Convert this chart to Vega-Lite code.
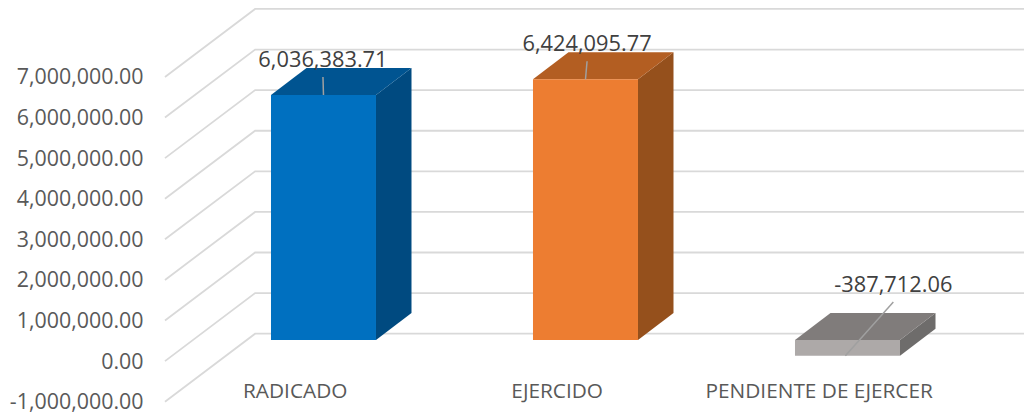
{"$schema":"https://vega.github.io/schema/vega-lite/v6.json","width":1024,"height":414,"padding":0,"autosize":"none","background":"#ffffff","config":{"view":{"stroke":null},"locale":{"number":{"decimal":".","thousands":",","grouping":[3],"currency":["$",""],"minus":"-"}},"text":{"font":"Open Sans"}},"datasets":{"bars":[{"category":"RADICADO","order":1,"value":6036383.71},{"category":"EJERCIDO","order":2,"value":6424095.77},{"category":"PENDIENTE DE EJERCER","order":3,"value":-387712.06}],"grid":[{"tick":-1000000},{"tick":0},{"tick":1000000},{"tick":2000000},{"tick":3000000},{"tick":4000000},{"tick":5000000},{"tick":6000000},{"tick":7000000}]},"resolve":{"scale":{"color":"independent"}},"layer":[{"data":{"name":"grid"},"transform":[{"calculate":"[0,1,2]","as":"c"},{"flatten":["c"]},{"calculate":"[0.395,0.739,3.6737][datum.c]","as":"px"},{"calculate":"datum.tick+(datum.c>0?1675000:0)","as":"py"}],"mark":{"type":"line","color":"#d9d9d9","strokeWidth":1.8},"encoding":{"x":{"field":"px","type":"quantitative","scale":{"domain":[-0.2347,3.6737],"nice":false,"zero":false},"axis":null},"y":{"field":"py","type":"quantitative","scale":{"domain":[-1303000,8896000],"nice":false,"zero":false},"axis":{"title":null,"orient":"left","offset":-147,"values":[-1000000,0,1000000,2000000,3000000,4000000,5000000,6000000,7000000],"format":",.2f","domain":false,"ticks":false,"grid":false,"labelPadding":4,"labelOffset":1,"labelFont":"Open Sans","labelFontSize":21.4,"labelColor":"#595959"}},"detail":{"field":"tick"},"order":{"field":"c"}}},{"data":{"name":"bars"},"transform":[{"calculate":"[0,1]","as":"c"},{"flatten":["c"]},{"calculate":"datum.order+0.2004+0.1355*datum.c","as":"px"},{"calculate":"519800+max(datum.value,0)+665000*datum.c","as":"yt"},{"calculate":"519800+min(datum.value,0)+665000*datum.c","as":"yb"}],"mark":{"type":"area","interpolate":"linear"},"encoding":{"x":{"field":"px","type":"quantitative"},"y":{"field":"yt","type":"quantitative","stack":null},"y2":{"field":"yb"},"color":{"field":"category","type":"nominal","legend":null,"scale":{"domain":["RADICADO","EJERCIDO","PENDIENTE DE EJERCER"],"range":["#004A80","#95501C","#6E6C6B"]}}}},{"data":{"name":"bars"},"transform":[{"calculate":"[0,1,2,3]","as":"c"},{"flatten":["c"]},{"calculate":"datum.order-0.2004+[0,0.1355,0.4008,0.5363][datum.c]","as":"px"},{"calculate":"519800+max(datum.value,0)+[0,0,0,665000][datum.c]","as":"yl"},{"calculate":"519800+max(datum.value,0)+[0,665000,665000,665000][datum.c]","as":"yh"}],"mark":{"type":"area","interpolate":"linear"},"encoding":{"x":{"field":"px","type":"quantitative"},"y":{"field":"yh","type":"quantitative","stack":null},"y2":{"field":"yl"},"color":{"field":"category","type":"nominal","legend":null,"scale":{"domain":["RADICADO","EJERCIDO","PENDIENTE DE EJERCER"],"range":["#005491","#B35E22","#807C7B"]}}}},{"data":{"name":"bars"},"transform":[{"calculate":"datum.order-0.2004","as":"xl"},{"calculate":"datum.order+0.2004","as":"xr"},{"calculate":"519800+max(datum.value,0)","as":"yt"},{"calculate":"519800+min(datum.value,0)","as":"yb"}],"mark":{"type":"rect"},"encoding":{"x":{"field":"xl","type":"quantitative"},"x2":{"field":"xr"},"y":{"field":"yt","type":"quantitative"},"y2":{"field":"yb"},"color":{"field":"category","type":"nominal","legend":null,"scale":{"domain":["RADICADO","EJERCIDO","PENDIENTE DE EJERCER"],"range":["#0070C0","#ED7D31","#ADA9A8"]}}}},{"data":{"name":"bars"},"transform":[{"calculate":"[0,1]","as":"c"},{"flatten":["c"]},{"calculate":"datum.order+[0,0,-0.008][datum.order-1]+datum.c*[-0.002,0.006,0.183][datum.order-1]","as":"px"},{"calculate":"519800+datum.value+datum.c*[443000,443000,1324000][datum.order-1]","as":"py"}],"mark":{"type":"line","color":"#a0a0a0","strokeWidth":1.5},"encoding":{"x":{"field":"px","type":"quantitative"},"y":{"field":"py","type":"quantitative"},"detail":{"field":"category"}}},{"data":{"name":"bars"},"transform":[{"calculate":"datum.order+[-0.002,0.006,0.175][datum.order-1]","as":"px"},{"calculate":"519800+datum.value+[865000,865000,1745000][datum.order-1]","as":"py"}],"mark":{"type":"text","font":"Open Sans","fontSize":21.8,"color":"#404040","align":"center","baseline":"middle"},"encoding":{"x":{"field":"px","type":"quantitative"},"y":{"field":"py","type":"quantitative"},"text":{"field":"value","type":"quantitative","format":",.2f"}}},{"data":{"name":"bars"},"transform":[{"calculate":"datum.order-0.108","as":"px"},{"calculate":"-770000","as":"py"}],"mark":{"type":"text","font":"Open Sans","fontSize":20.8,"color":"#595959","align":"center","baseline":"middle"},"encoding":{"x":{"field":"px","type":"quantitative"},"y":{"field":"py","type":"quantitative"},"text":{"field":"category","type":"nominal"}}}]}
